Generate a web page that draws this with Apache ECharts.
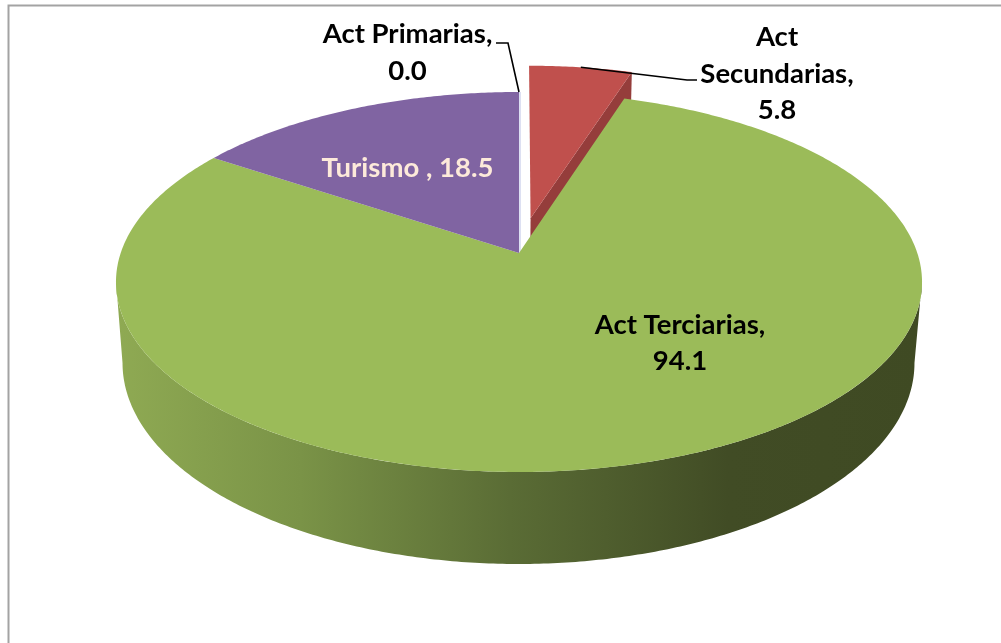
<!DOCTYPE html>
<html>
<head>
<meta charset="utf-8">
<style>html,body{margin:0;padding:0;background:#fff}#c{width:1001px;height:643px}</style>
<script src="https://cdn.jsdelivr.net/npm/echarts@6/dist/echarts.min.js"></script>
</head>
<body>
<div id="c"></div>
<script>
const categories = ['Act Primarias', 'Act Secundarias', 'Act Terciarias', 'Turismo'];
const values = [0.0, 5.8, 94.1, 18.5];
const labelLines = [
  ['Act Primarias,', '0.0'],
  ['Act', 'Secundarias,', '5.8'],
  ['Act Terciarias,', '94.1'],
  ['Turismo , 18.5']
];
const faceColors = ['#DDE0F2', '#C0504D', '#9BBB59', '#8064A2'];
const labelColors = ['#000', '#000', '#000', '#FDEADA'];
const explode = [0, 0.195, 0, 0];

// perspective projection of the pie's disc onto the screen
const topDisc = {cx: 519, A: 398.3, a: -146.96, b: 253, c: 0.1526};
const botDisc = {cx: 518.5, A: 391.7, a: -147.8, b: 333.5, c: 0.1466};
function proj(d, u, v) {
  const w = 1 + d.c * v;
  return [d.cx + d.A * u / w, (d.a * v + d.b) / w];
}
const total = values.reduce((s, x) => s + x, 0);
const slices = [];
let acc = 0;
values.forEach((val, i) => {
  const start = acc / total * 2 * Math.PI;
  acc += val;
  const end = acc / total * 2 * Math.PI;
  const mid = (start + end) / 2;
  slices.push({start, end, mid, ox: explode[i] * Math.sin(mid), oy: explode[i] * Math.cos(mid)});
});
function rim(d, s, t) {
  return proj(d, Math.sin(t) + s.ox, Math.cos(t) + s.oy);
}
function arc(d, s, a, b) {
  const pts = [];
  const n = Math.max(1, Math.ceil(Math.abs(b - a) / 0.01));
  for (let k = 0; k <= n; k++) pts.push(rim(d, s, a + (b - a) * k / n));
  return pts;
}
const nearStart = Math.PI / 2 + 0.147, nearEnd = 3 * Math.PI / 2 - 0.147;
const wallGradient = new echarts.graphic.LinearGradient(115, 0, 921, 0, [
  {offset: 0, color: '#8FAA53'},
  {offset: 0.23, color: '#7A9347'},
  {offset: 0.49, color: '#5A6C35'},
  {offset: 0.76, color: '#414C25'},
  {offset: 1, color: '#3F4A23'}
], true);

function renderWall(params) {
  const i = params.dataIndex;
  const s = slices[i];
  if (values[i] === 0) return {type: 'group', children: []};
  let pts = null, fill;
  if (i === 1) {
    // radial cut face of the pulled-out slice
    const apexT = proj(topDisc, s.ox, s.oy), apexB = proj(botDisc, s.ox, s.oy);
    pts = [apexT, rim(topDisc, s, s.end), rim(botDisc, s, s.end), apexB];
    fill = '#953D3B';
  } else if (i === 2) {
    const a = Math.max(s.start, nearStart), b = Math.min(s.end, nearEnd);
    pts = arc(botDisc, s, a, b).concat(arc(topDisc, s, a, b).reverse());
    fill = wallGradient;
  }
  if (!pts) return {type: 'group', children: []};
  return {type: 'polygon', shape: {points: pts}, style: {fill: fill}};
}
function renderFace(params) {
  const i = params.dataIndex;
  const s = slices[i];
  const apex = proj(topDisc, s.ox, s.oy);
  if (values[i] === 0) {
    return {type: 'polyline', shape: {points: [[apex[0] + 1, apex[1]], [rim(topDisc, s, s.start)[0] + 1, rim(topDisc, s, s.start)[1]]]},
      style: {stroke: faceColors[i], lineWidth: 2, fill: null}};
  }
  return {type: 'polygon', shape: {points: [apex].concat(arc(topDisc, s, s.start, s.end))}, style: {fill: faceColors[i]}};
}
const labelAnchor = [[407.5, 52.5], [777, 74], [680, 343], [407.5, 168]];
const leaderBends = [[[508, 43], [496, 43]], [[687, 80], [697, 80]], null, null];
function renderLabel(params) {
  const i = params.dataIndex;
  const children = [];
  if (leaderBends[i]) {
    const s = slices[i];
    const p = rim(topDisc, s, s.mid);
    children.push({type: 'polyline', shape: {points: [p].concat(leaderBends[i])},
      style: {stroke: '#000', lineWidth: 1.6, fill: null}});
  }
  children.push({type: 'text', x: labelAnchor[i][0], y: labelAnchor[i][1], style: {
    text: labelLines[i].join('\n'), font: 'bold 27.5px Lato', fill: labelColors[i],
    align: 'center', verticalAlign: 'middle', lineHeight: 36.5
  }});
  return {type: 'group', children};
}
const rows = categories.map((name, i) => ({name, value: values[i]}));
const chart = echarts.init(document.getElementById('c'));
chart.setOption({
  animation: false,
  backgroundColor: '#fff',
  graphic: [{
    type: 'polyline', silent: true,
    shape: {points: [[8.5, 643], [8.5, 5.5], [1001, 5.5]]},
    style: {stroke: '#A3A3A3', lineWidth: 2, fill: null}
  }],
  series: [
    {type: 'custom', coordinateSystem: 'none', silent: true, z: 2, data: rows, renderItem: renderWall},
    {type: 'custom', coordinateSystem: 'none', silent: true, z: 3, data: rows.map(r => r), renderItem: renderFace},
    {type: 'custom', coordinateSystem: 'none', silent: true, z: 4, data: rows.map(r => r), renderItem: renderLabel}
  ]
});
</script>
</body>
</html>
